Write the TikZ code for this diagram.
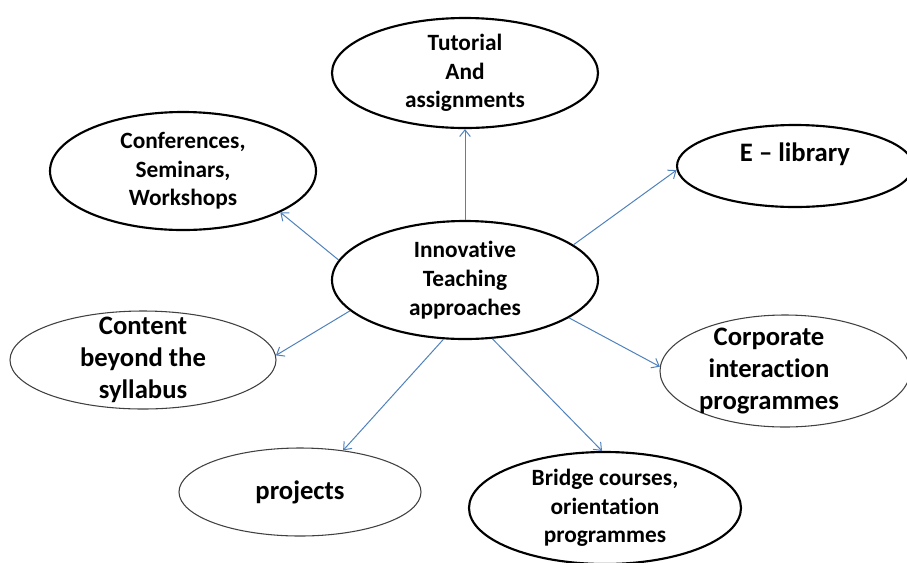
\documentclass[tikz,border=0pt]{standalone}
\usepackage{fontspec}
\setmainfont{Carlito}[Ligatures={NoCommon}]
\usetikzlibrary{shapes.geometric,arrows.meta}

\tikzset{
  bubble/.style={ellipse,align=center,inner xsep=0pt,inner ysep=-15pt,font=\bfseries},
  boldbub/.style={bubble,draw=black,line width=1.6pt},
  thinbub/.style={bubble,draw={rgb,255:red,64;green,64;blue,64},line width=0.8pt},
  smalltext/.style={font=\fontsize{17.5}{21.5}\selectfont\bfseries},
  bigtext/.style={font=\fontsize{20}{24}\selectfont\bfseries},
  link/.style={draw={rgb,255:red,79;green,129;blue,189},line width=0.75pt,-{Straight Barb[length=5pt,width=8pt]}}
}

\begin{document}
\begin{tikzpicture}[x=0.75pt,y=0.75pt,yscale=-1,xscale=1]
\useasboundingbox (0,0) rectangle (907,562);

%Shape: Ellipse [hub]
\node [boldbub,smalltext,minimum width=199.5pt,minimum height=88.5pt] (hub) at (465,280) {Innovative\\Teaching\\approaches};
%Shape: Ellipse [tutorial]
\node [boldbub,smalltext,minimum width=199.5pt,minimum height=82.5pt] (tutorial) at (465,73) {Tutorial\\And\\assignments};
%Shape: Ellipse [conferences]
\node [boldbub,smalltext,minimum width=199.5pt,minimum height=88.5pt] (confs) at (183,171) {Conferences,\\Seminars,\\Workshops};
%Shape: Ellipse [e-library]
\node [boldbub,bigtext,minimum width=177pt,minimum height=61.5pt] (elibrary) at (795,166) {\raisebox{9pt}[\height][\depth]{E -- library}};
%Shape: Ellipse [content]
\node [thinbub,bigtext,minimum width=199.5pt,minimum height=73.5pt] (content) at (143,360) {Content\\beyond the\\syllabus};
%Shape: Ellipse [corporate]
\node [thinbub,bigtext,minimum width=187.5pt,minimum height=84pt] (corporate) at (785,371) {Corporate\kern24pt\\interaction\kern24pt\\programmes\kern24pt};
%Shape: Ellipse [projects]
\node [thinbub,bigtext,minimum width=181.5pt,minimum height=66pt] (projects) at (300,492) {projects};
%Shape: Ellipse [bridge]
\node [boldbub,smalltext,minimum width=204pt,minimum height=84pt] (bridge) at (605,508) {Bridge courses,\\orientation\\programmes};

%Straight Lines
\draw [link] (hub.90) -- (tutorial.-90);
\draw [link] (hub.171) -- (confs.-23.6);
\draw [link] (hub.18) -- (elibrary.182);
\draw [link] (hub.195) -- (content.2);
\draw [link] (hub.-20) -- (corporate.178);
\draw [link] (hub.250) -- (projects.44.5);
\draw [link] (hub.-65) -- (bridge.93);

\end{tikzpicture}
\end{document}
